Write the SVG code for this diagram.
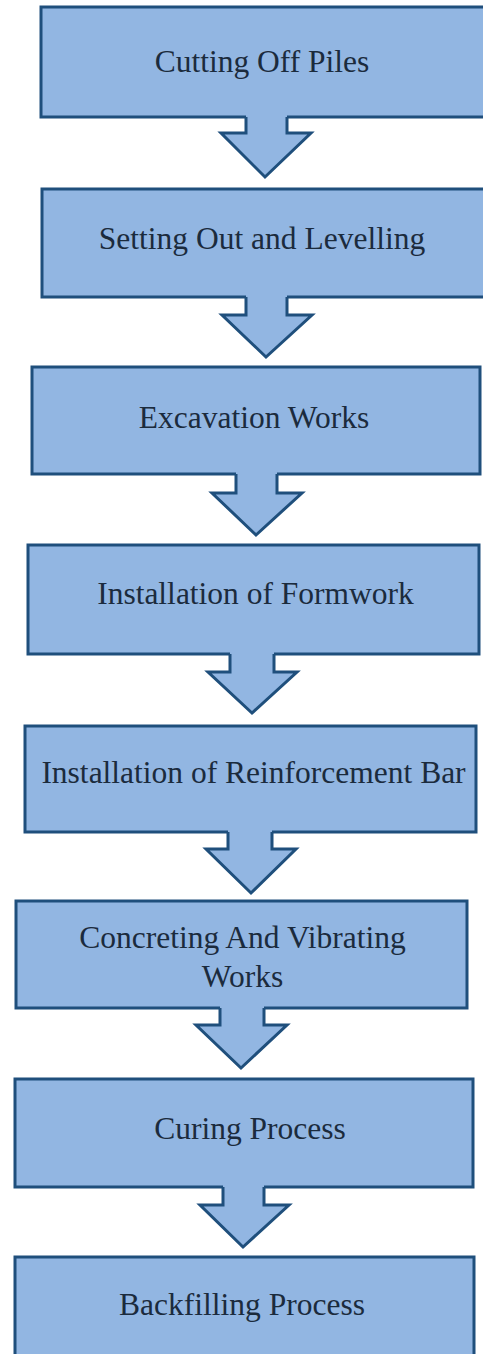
<svg xmlns="http://www.w3.org/2000/svg" width="483" height="1354" viewBox="0 0 483 1354">
  <style>
    .box { fill: #92b6e2; stroke: #1f4f7c; stroke-width: 3; }
    .arrow-fill { fill: #92b6e2; stroke: none; }
    .arrow-edge { fill: none; stroke: #1f4f7c; stroke-width: 3; stroke-linejoin: miter; }
    .label { font-family: 'Liberation Serif', 'DejaVu Serif', serif; font-size: 31.5px; fill: #1b2b3d; text-anchor: middle; }
  </style>
  <rect width="483" height="1354" fill="#ffffff"/>

  <!-- process steps -->
  <g id="node-cutting-off-piles">
    <rect class="box" x="41" y="7" width="460" height="110"/>
    <text class="label" x="262" y="72">Cutting Off Piles</text>
  </g>
  <g id="node-setting-out">
    <rect class="box" x="42" y="189" width="460" height="108"/>
    <text class="label" x="262" y="249">Setting Out and Levelling</text>
  </g>
  <g id="node-excavation">
    <rect class="box" x="32" y="367" width="448" height="107"/>
    <text class="label" x="254" y="428">Excavation Works</text>
  </g>
  <g id="node-formwork">
    <rect class="box" x="28" y="545" width="451" height="109"/>
    <text class="label" x="255.5" y="604">Installation of Formwork</text>
  </g>
  <g id="node-rebar">
    <rect class="box" x="25" y="726" width="451" height="106"/>
    <text class="label" x="253.5" y="783">Installation of Reinforcement Bar</text>
  </g>
  <g id="node-concreting">
    <rect class="box" x="16" y="901" width="451" height="107"/>
    <text class="label" x="242.5" y="948">Concreting And Vibrating</text>
    <text class="label" x="242.5" y="987">Works</text>
  </g>
  <g id="node-curing">
    <rect class="box" x="15" y="1079" width="458" height="108"/>
    <text class="label" x="250" y="1139">Curing Process</text>
  </g>
  <g id="node-backfilling">
    <rect class="box" x="15" y="1257" width="459" height="110"/>
    <text class="label" x="242" y="1315">Backfilling Process</text>
  </g>

  <!-- block arrows between steps -->
  <g id="connectors">
    <g>
      <polygon class="arrow-fill" points="246,112 287,112 287,133 311,133 265,177 221,133 246,133"/>
      <polyline class="arrow-edge" points="246,117 246,133 221,133 265,177 311,133 287,133 287,117"/>
    </g>
    <g>
      <polygon class="arrow-fill" points="246,292 287,292 287,315 312,315 266,357 222,315 246,315"/>
      <polyline class="arrow-edge" points="246,297 246,315 222,315 266,357 312,315 287,315 287,297"/>
    </g>
    <g>
      <polygon class="arrow-fill" points="236,469 277,469 277,493 302,493 256,535 212,493 236,493"/>
      <polyline class="arrow-edge" points="236,474 236,493 212,493 256,535 302,493 277,493 277,474"/>
    </g>
    <g>
      <polygon class="arrow-fill" points="230,649 274,649 274,672 297,672 252,713 208,672 230,672"/>
      <polyline class="arrow-edge" points="230,654 230,672 208,672 252,713 297,672 274,672 274,654"/>
    </g>
    <g>
      <polygon class="arrow-fill" points="228,827 272,827 272,849 296,849 251,893 206,849 228,849"/>
      <polyline class="arrow-edge" points="228,832 228,849 206,849 251,893 296,849 272,849 272,832"/>
    </g>
    <g>
      <polygon class="arrow-fill" points="220,1003 264,1003 264,1025 287,1025 241,1068 196,1025 220,1025"/>
      <polyline class="arrow-edge" points="220,1008 220,1025 196,1025 241,1068 287,1025 264,1025 264,1008"/>
    </g>
    <g>
      <polygon class="arrow-fill" points="223,1182 264,1182 264,1205 289,1205 243,1247 200,1205 223,1205"/>
      <polyline class="arrow-edge" points="223,1187 223,1205 200,1205 243,1247 289,1205 264,1205 264,1187"/>
    </g>
  </g>
</svg>
